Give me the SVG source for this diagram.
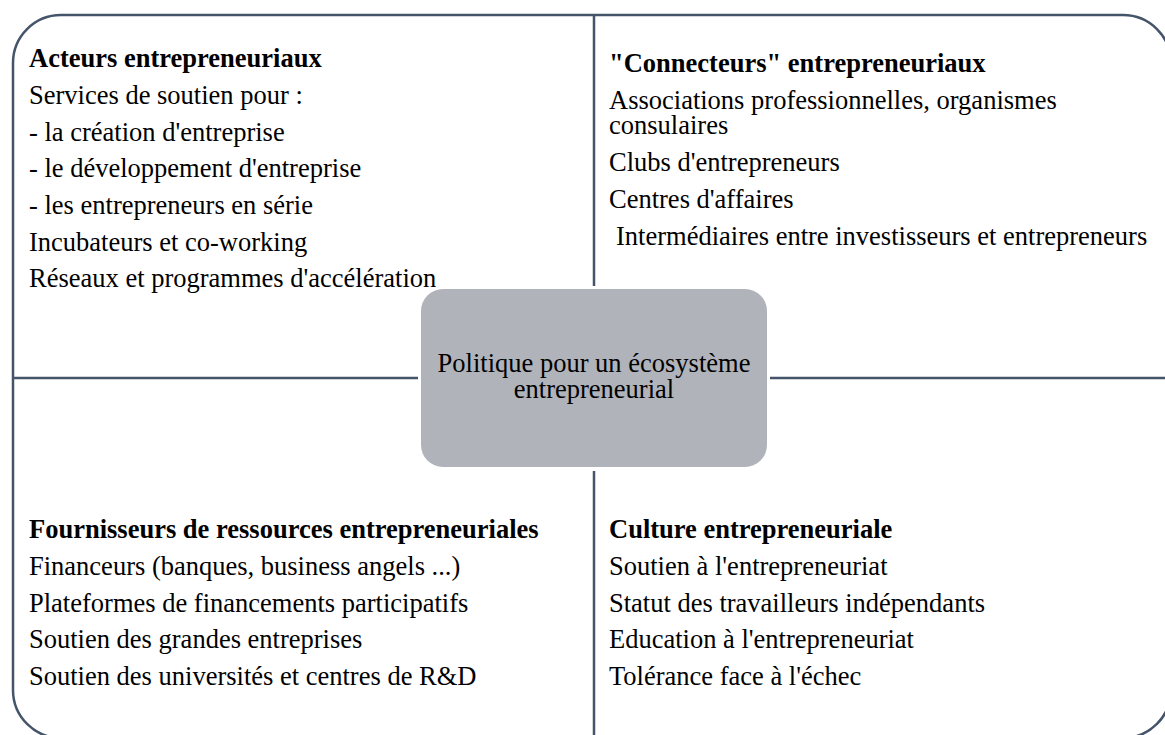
<svg xmlns="http://www.w3.org/2000/svg" width="1165" height="735" viewBox="0 0 1165 735">
<style>
.t{font-family:"Liberation Serif","Times New Roman",serif;font-size:26.5px;fill:#000}
.b{font-weight:bold}
.ln{stroke:#44546A;stroke-width:2.5;fill:none}
.c{text-anchor:middle}
</style>
<rect width="1165" height="735" fill="#fff"/>
<rect id="frame" class="ln" x="13" y="15" width="1158" height="723" rx="48" ry="48"/>
<g id="connectors">
<line class="ln" x1="594" y1="15" x2="594" y2="286"/>
<line class="ln" x1="594" y1="471" x2="594" y2="738"/>
<line class="ln" x1="13" y1="378" x2="418" y2="378"/>
<line class="ln" x1="770" y1="378" x2="1171" y2="378"/>
</g>
<g id="acteurs">
<text class="t b" x="29" y="67">Acteurs entrepreneuriaux</text>
<text class="t" x="29" y="104">Services de soutien pour :</text>
<text class="t" x="29" y="141">- la création d'entreprise</text>
<text class="t" x="29" y="177">- le développement d'entreprise</text>
<text class="t" x="29" y="214">- les entrepreneurs en série</text>
<text class="t" x="29" y="251">Incubateurs et co-working</text>
<text class="t" x="29" y="287">Réseaux et programmes d'accélération</text>
</g>
<g id="connecteurs">
<text class="t b" x="609" y="72">"Connecteurs" entrepreneuriaux</text>
<text class="t" x="609" y="109">Associations professionnelles, organismes</text>
<text class="t" x="609" y="134">consulaires</text>
<text class="t" x="609" y="171">Clubs d'entrepreneurs</text>
<text class="t" x="609" y="208">Centres d'affaires</text>
<text class="t" x="616" y="245">Intermédiaires entre investisseurs et entrepreneurs</text>
</g>
<g id="fournisseurs">
<text class="t b" x="29" y="538">Fournisseurs de ressources entrepreneuriales</text>
<text class="t" x="29" y="575">Financeurs (banques, business angels ...)</text>
<text class="t" x="29" y="612">Plateformes de financements participatifs</text>
<text class="t" x="29" y="648">Soutien des grandes entreprises</text>
<text class="t" x="29" y="685">Soutien des universités et centres de R&amp;D</text>
</g>
<g id="culture">
<text class="t b" x="609" y="538">Culture entrepreneuriale</text>
<text class="t" x="609" y="575">Soutien à l'entrepreneuriat</text>
<text class="t" x="609" y="612">Statut des travailleurs indépendants</text>
<text class="t" x="609" y="648">Education à l'entrepreneuriat</text>
<text class="t" x="609" y="685">Tolérance face à l'échec</text>
</g>
<g id="politique">
<rect x="421" y="289" width="346" height="178" rx="22" ry="22" fill="#B1B3BA"/>
<text class="t c" x="594" y="372">Politique pour un écosystème</text>
<text class="t c" x="594" y="398">entrepreneurial</text>
</g>
</svg>
